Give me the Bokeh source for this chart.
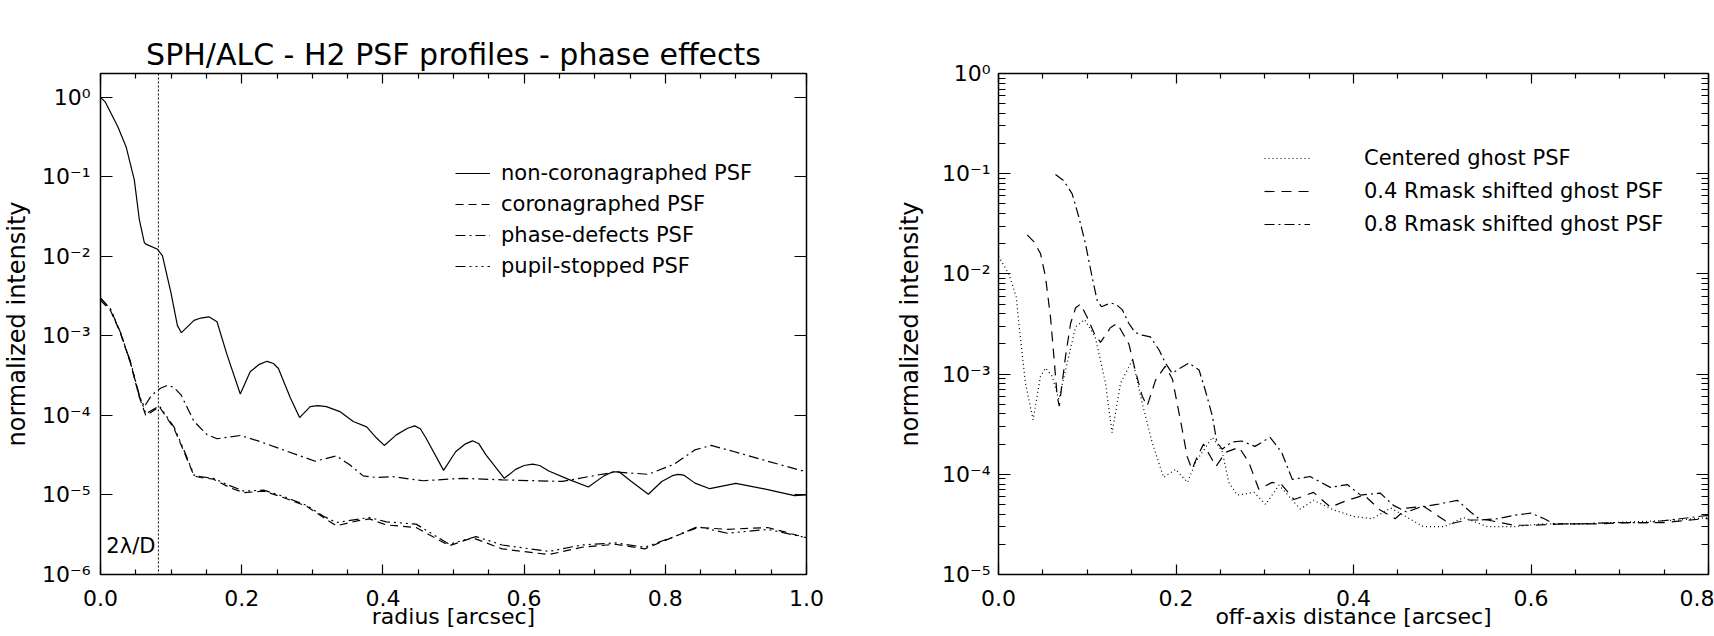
import json
from bokeh.plotting import figure
from bokeh.layouts import row
from bokeh.models import (LogAxis, LinearAxis, FixedTicker, CustomJSTickFormatter,
                          Span, Label, Legend, LegendItem, Range1d)
from bokeh.embed import file_html
from bokeh.resources import INLINE

FONT = "DejaVu Sans"

# ---------------- left panel: PSF profiles ----------------
left_title = "SPH/ALC - H2 PSF profiles - phase effects"
left_xlabel = "radius [arcsec]"
ylabel = "normalized intensity"
lambda_label = "2\u03bb/D"
lambda_pos = 0.082

r_noncoro = [0.0, 0.0066, 0.0244, 0.0362, 0.0479, 0.055, 0.062, 0.0643, 0.0808, 0.0878, 0.0996,
             0.109, 0.1146, 0.1325, 0.142, 0.1536, 0.165, 0.1794, 0.198, 0.212, 0.225, 0.236,
             0.245, 0.252, 0.269, 0.282, 0.297, 0.308, 0.320, 0.339, 0.358, 0.377, 0.391, 0.402,
             0.419, 0.435, 0.445, 0.453, 0.461, 0.486, 0.503, 0.517, 0.527, 0.536, 0.546, 0.572,
             0.588, 0.600, 0.612, 0.622, 0.635, 0.663, 0.691, 0.713, 0.725, 0.735, 0.752, 0.776,
             0.795, 0.810, 0.818, 0.826, 0.842, 0.863, 0.900, 0.945, 0.983, 1.0]
i_noncoro = [1.0, 0.88, 0.43, 0.24, 0.092, 0.029, 0.015, 0.0143, 0.0123, 0.0102, 3.55e-3,
             1.35e-3, 1.1e-3, 1.57e-3, 1.68e-3, 1.74e-3, 1.51e-3, 5.75e-4, 1.86e-4, 3.55e-4,
             4.4e-4, 4.8e-4, 4.5e-4, 3.9e-4, 1.66e-4, 9.4e-5, 1.29e-4, 1.33e-4, 1.29e-4, 1.12e-4,
             8.4e-5, 7.2e-5, 5.2e-5, 4.2e-5, 5.7e-5, 6.9e-5, 7.4e-5, 6.8e-5, 5.2e-5, 2.04e-5,
             3.5e-5, 4.4e-5, 4.8e-5, 4.4e-5, 3.2e-5, 1.62e-5, 2.1e-5, 2.35e-5, 2.45e-5, 2.35e-5,
             2.0e-5, 1.57e-5, 1.26e-5, 1.74e-5, 1.95e-5, 1.95e-5, 1.48e-5, 1.02e-5, 1.48e-5,
             1.75e-5, 1.82e-5, 1.78e-5, 1.41e-5, 1.2e-5, 1.4e-5, 1.17e-5, 9.8e-6, 1.0e-5]

r_coro = [0.0, 0.014, 0.028, 0.0423, 0.055, 0.0643, 0.0833, 0.104, 0.118, 0.1325, 0.1414, 0.160,
          0.184, 0.203, 0.231, 0.259, 0.292, 0.316, 0.334, 0.367, 0.381, 0.405, 0.447, 0.494,
          0.527, 0.569, 0.635, 0.682, 0.729, 0.771, 0.813, 0.846, 0.888, 0.945, 1.0]
i_coro = [2.8e-3, 2.1e-3, 1.1e-3, 4.6e-4, 1.7e-4, 9.9e-5, 1.29e-4, 6.9e-5, 3.55e-5, 1.74e-5,
          1.66e-5, 1.58e-5, 1.23e-5, 1.07e-5, 1.12e-5, 9.3e-6, 7.2e-6, 5.2e-6, 4.1e-6, 4.8e-6,
          5.0e-6, 4.2e-6, 3.9e-6, 2.3e-6, 2.9e-6, 2.1e-6, 1.78e-6, 2.2e-6, 2.4e-6, 2.1e-6,
          3.0e-6, 3.9e-6, 3.7e-6, 3.9e-6, 2.9e-6]

r_phase = [0.0, 0.014, 0.028, 0.0423, 0.055, 0.062, 0.072, 0.085, 0.0949, 0.104, 0.114, 0.1325,
           0.151, 0.165, 0.198, 0.226, 0.264, 0.304, 0.334, 0.353, 0.372, 0.391, 0.414, 0.457,
           0.513, 0.569, 0.654, 0.691, 0.729, 0.776, 0.813, 0.842, 0.865, 0.898, 0.945, 1.0]
i_phase = [2.95e-3, 2.19e-3, 1.12e-3, 4.7e-4, 1.74e-4, 1.29e-4, 1.78e-4, 2.2e-4, 2.4e-4,
           2.25e-4, 1.82e-4, 8.4e-5, 5.75e-5, 5.1e-5, 5.6e-5, 4.7e-5, 3.55e-5, 2.66e-5, 3.1e-5,
           2.4e-5, 1.74e-5, 1.66e-5, 1.7e-5, 1.51e-5, 1.62e-5, 1.55e-5, 1.48e-5, 1.7e-5,
           1.95e-5, 1.82e-5, 2.45e-5, 3.7e-5, 4.2e-5, 3.5e-5, 2.66e-5, 1.95e-5]

r_pupil = [0.0, 0.014, 0.028, 0.0423, 0.055, 0.0643, 0.0833, 0.104, 0.118, 0.1325, 0.1414, 0.160,
           0.184, 0.203, 0.231, 0.259, 0.292, 0.316, 0.334, 0.367, 0.381, 0.405, 0.447, 0.494,
           0.532, 0.569, 0.635, 0.682, 0.729, 0.771, 0.813, 0.846, 0.888, 0.945, 1.0]
i_pupil = [3.0e-3, 2.2e-3, 1.12e-3, 4.8e-4, 1.8e-4, 1.05e-4, 1.32e-4, 7.2e-5, 3.7e-5, 1.78e-5,
           1.7e-5, 1.62e-5, 1.3e-5, 1.12e-5, 1.15e-5, 9.6e-6, 7.4e-6, 5.4e-6, 4.5e-6, 5.0e-6,
           5.2e-6, 4.6e-6, 4.3e-6, 2.4e-6, 3.0e-6, 2.35e-6, 1.95e-6, 2.35e-6, 2.5e-6, 2.2e-6,
           3.0e-6, 4.0e-6, 3.3e-6, 3.7e-6, 2.9e-6]

left_names = ["non-coronagraphed PSF", "coronagraphed PSF", "phase-defects PSF", "pupil-stopped PSF"]

left_xticks = [0.0, 0.2, 0.4, 0.6, 0.8, 1.0]
left_xtick_labels = ["0.0", "0.2", "0.4", "0.6", "0.8", "1.0"]
left_yticks = [1e-6, 1e-5, 1e-4, 1e-3, 1e-2, 1e-1, 1.0]
left_ytick_labels = ["10\u207b\u2076", "10\u207b\u2075", "10\u207b\u2074", "10\u207b\u00b3",
                     "10\u207b\u00b2", "10\u207b\u00b9", "10\u2070"]

# ---------------- right panel: ghost PSFs ----------------
right_xlabel = "off-axis distance [arcsec]"

d_center = [0.0, 0.0116, 0.020, 0.0229, 0.0304, 0.039, 0.0473, 0.053, 0.0605, 0.068, 0.0774,
            0.0868, 0.097, 0.109, 0.1206, 0.128, 0.1375, 0.151, 0.162, 0.173, 0.186, 0.1995,
            0.213, 0.222, 0.241, 0.252, 0.2595, 0.269, 0.288, 0.301, 0.316, 0.340, 0.355, 0.378,
            0.400, 0.421, 0.442, 0.479, 0.502, 0.524, 0.551, 0.581, 0.611, 0.656, 0.693, 0.731,
            0.768, 0.8]
i_center = [1.5e-2, 1.0e-2, 5.9e-3, 3.2e-3, 8.1e-4, 3.5e-4, 9.5e-4, 1.15e-3, 9.5e-4, 5.6e-4,
            1.29e-3, 2.95e-3, 3.5e-3, 2.35e-3, 8.1e-4, 2.6e-4, 8.1e-4, 1.39e-3, 5.1e-4, 2.1e-4,
            9.3e-5, 1.12e-4, 8.3e-5, 1.32e-4, 2.34e-4, 1.7e-4, 8.3e-5, 6.2e-5, 6.6e-5, 5.0e-5,
            7.8e-5, 4.5e-5, 5.5e-5, 4.4e-5, 3.8e-5, 3.6e-5, 4.6e-5, 3.0e-5, 3.0e-5, 3.7e-5,
            3.0e-5, 3.0e-5, 3.2e-5, 3.2e-5, 3.3e-5, 3.4e-5, 3.5e-5, 3.7e-5]

d_shift04 = [0.0323, 0.0398, 0.0473, 0.053, 0.0586, 0.0624, 0.0661, 0.0685, 0.0755, 0.0812,
             0.087, 0.0924, 0.0999, 0.1074, 0.1149, 0.1206, 0.126, 0.1337, 0.1469, 0.154, 0.162,
             0.1675, 0.177, 0.188, 0.196, 0.2013, 0.207, 0.2126, 0.218, 0.224, 0.231, 0.245,
             0.256, 0.271, 0.282, 0.2933, 0.3083, 0.319, 0.333, 0.355, 0.374, 0.393, 0.412, 0.43,
             0.447, 0.46, 0.479, 0.494, 0.509, 0.528, 0.551, 0.581, 0.603, 0.637, 0.675, 0.712,
             0.75, 0.795, 0.8]
i_shift04 = [2.45e-2, 2.1e-2, 1.6e-2, 9.3e-3, 3.7e-3, 1.5e-3, 6.0e-4, 4.8e-4, 1.5e-3, 3.2e-3,
             4.6e-3, 5.0e-3, 3.7e-3, 2.6e-3, 2.07e-3, 2.45e-3, 2.9e-3, 3.2e-3, 2.0e-3, 1.1e-3,
             6.0e-4, 4.8e-4, 8.7e-4, 1.2e-3, 8.9e-4, 5.1e-4, 2.8e-4, 1.5e-4, 1.12e-4, 1.5e-4,
             2.0e-4, 1.2e-4, 1.66e-4, 1.86e-4, 1.32e-4, 7.1e-5, 8.3e-5, 7.9e-5, 5.6e-5, 6.6e-5,
             4.7e-5, 5.5e-5, 6.2e-5, 4.4e-5, 3.6e-5, 4.6e-5, 4.8e-5, 3.9e-5, 3.2e-5, 3.5e-5,
             3.5e-5, 3.1e-5, 3.1e-5, 3.2e-5, 3.2e-5, 3.3e-5, 3.3e-5, 3.6e-5, 3.6e-5]

d_shift08 = [0.0642, 0.0736, 0.083, 0.0905, 0.098, 0.1055, 0.111, 0.116, 0.126, 0.132, 0.1394,
             0.1469, 0.154, 0.162, 0.171, 0.181, 0.188, 0.1957, 0.205, 0.2145, 0.226, 0.233,
             0.241, 0.246, 0.252, 0.263, 0.274, 0.289, 0.306, 0.319, 0.331, 0.351, 0.374, 0.393,
             0.408, 0.43, 0.445, 0.46, 0.475, 0.494, 0.517, 0.532, 0.543, 0.562, 0.581, 0.6,
             0.615, 0.626, 0.656, 0.693, 0.731, 0.768, 0.8]
i_shift08 = [9.8e-2, 8.5e-2, 6.3e-2, 3.7e-2, 2.0e-2, 9.3e-3, 5.5e-3, 4.7e-3, 5.1e-3, 5.0e-3,
             4.4e-3, 3.2e-3, 2.6e-3, 2.45e-3, 2.35e-3, 1.74e-3, 1.29e-3, 1.02e-3, 1.15e-3,
             1.29e-3, 1.1e-3, 6.9e-4, 3.8e-4, 2.1e-4, 1.78e-4, 2.1e-4, 2.15e-4, 1.9e-4, 2.34e-4,
             1.66e-4, 8.9e-5, 9.5e-5, 7.4e-5, 7.9e-5, 6.2e-5, 6.5e-5, 4.9e-5, 4.2e-5, 4.7e-5,
             5.0e-5, 5.5e-5, 4.2e-5, 3.5e-5, 3.6e-5, 3.9e-5, 4.1e-5, 3.6e-5, 3.2e-5, 3.2e-5,
             3.3e-5, 3.3e-5, 3.6e-5, 3.9e-5]

right_names = ["Centered ghost PSF", "0.4 Rmask shifted ghost PSF", "0.8 Rmask shifted ghost PSF"]

right_xticks = [0.0, 0.2, 0.4, 0.6, 0.8]
right_xtick_labels = ["0.0", "0.2", "0.4", "0.6", "0.8"]
right_yticks = [1e-5, 1e-4, 1e-3, 1e-2, 1e-1, 1.0]
right_ytick_labels = ["10\u207b\u2075", "10\u207b\u2074", "10\u207b\u00b3", "10\u207b\u00b2",
                      "10\u207b\u00b9", "10\u2070"]


def label_formatter(ticks, labels):
    return CustomJSTickFormatter(code=(
        "const T = " + json.dumps(ticks) + "; const L = " + json.dumps(labels) + ";\n"
        "for (let i = 0; i < T.length; i++) {\n"
        "  const tol = 1e-6 * Math.max(Math.abs(T[i]), 1e-12);\n"
        "  if (Math.abs(T[i] - tick) <= tol) return L[i];\n"
        "}\n"
        "return '';"))


def style_axis(ax, ticks, minor, labels, tin, min_in, show=True, standoff=10):
    ax.ticker = FixedTicker(ticks=ticks, minor_ticks=minor)
    if show:
        ax.formatter = label_formatter(ticks, labels)
        ax.major_label_text_font_size = "22px"
    else:
        ax.formatter = CustomJSTickFormatter(code="return '';")
        ax.major_label_text_font_size = "0px"
    ax.major_label_text_font = FONT
    ax.major_label_text_color = "black"
    ax.major_label_standoff = standoff if show else 0
    ax.major_tick_in = tin
    ax.major_tick_out = 0
    ax.minor_tick_in = min_in
    ax.minor_tick_out = 0
    ax.major_tick_line_color = "black"
    ax.minor_tick_line_color = "black" if min_in > 0 else None
    ax.major_tick_line_width = 1.2
    ax.minor_tick_line_width = 1.2
    ax.axis_line_color = None
    ax.axis_label = None
    ax.axis_label_text_font = FONT
    ax.axis_label_text_font_size = "22px"
    ax.axis_label_text_font_style = "normal"
    ax.axis_label_text_color = "black"


def minor_list(majors, step):
    out = []
    for a, b in zip(majors[:-1], majors[1:]):
        n = int(round((b - a) / step))
        out += [a + k * step for k in range(1, n)]
    return out


def log_minors(majors):
    out = []
    for m in majors[:-1]:
        out += [k * m for k in range(2, 10)]
    return out


LINE = dict(line_color="black", line_width=1.2)

# ---------------- left figure ----------------
p1 = figure(width=846, height=636, x_range=Range1d(0.0, 1.0), y_range=Range1d(1e-6, 2.0),
            y_axis_type="log", output_backend="svg", toolbar_location=None,
            min_border_left=96, min_border_right=40, min_border_top=73, min_border_bottom=62,
            title=left_title)
p1.title.text_font = FONT
p1.title.text_font_size = "30px"
p1.title.text_font_style = "normal"
p1.title.text_color = "black"
p1.title.align = "center"
p1.title.standoff = 3
p1.xgrid.visible = False
p1.ygrid.visible = False
p1.outline_line_color = "black"
p1.outline_line_width = 1.5
p1.background_fill_color = "white"
p1.border_fill_color = "white"

x_minor_l = minor_list(left_xticks, 0.05)
style_axis(p1.xaxis[0], left_xticks, x_minor_l, left_xtick_labels, 10, 5, True, 15)
p1.xaxis[0].axis_label = left_xlabel
p1.xaxis[0].axis_label_standoff = -5
style_axis(p1.yaxis[0], left_yticks, [], left_ytick_labels, 12, 0, True, 10)
p1.yaxis[0].axis_label = ylabel
p1.yaxis[0].axis_label_standoff = 8
p1.yaxis[0].axis_label_text_font_size = "24px"
top1 = LinearAxis()
style_axis(top1, left_xticks, x_minor_l, left_xtick_labels, 10, 5, False)
p1.add_layout(top1, "above")
right1 = LogAxis()
style_axis(right1, left_yticks, [], left_ytick_labels, 12, 0, False)
p1.add_layout(right1, "right")

l_solid = p1.line(r_noncoro, i_noncoro, **LINE)
l_dash = p1.line(r_coro, i_coro, line_dash="8 5", **LINE)
l_dashdot = p1.line(r_phase, i_phase, line_dash="10 4 2 4", **LINE)
l_dash3dot = p1.line(r_pupil, i_pupil, line_dash="10 4 2 4 2 4 2 4", **LINE)

p1.add_layout(Span(location=lambda_pos, dimension="height", line_color="black",
                   line_width=1, line_dash="2 2"))
p1.add_layout(Label(x=lambda_pos, y=2.3e-6, x_offset=-3, text=lambda_label,
                    text_align="right", text_baseline="middle", text_font=FONT,
                    text_font_size="21px", text_color="black"))

leg1 = Legend(items=[LegendItem(label=n, renderers=[r]) for n, r in
                     zip(left_names, [l_solid, l_dash, l_dashdot, l_dash3dot])],
              location=(355, 296), orientation="vertical",
              border_line_color=None, background_fill_alpha=0.0,
              label_text_font=FONT, label_text_font_size="21px", label_text_color="black",
              glyph_width=35, glyph_height=20, label_standoff=11, spacing=7,
              padding=0, margin=0, label_height=20)
p1.add_layout(leg1, "center")

# ---------------- right figure ----------------
p2 = figure(width=868, height=636, x_range=Range1d(0.0, 0.8), y_range=Range1d(1e-5, 1.0),
            y_axis_type="log", output_backend="svg", toolbar_location=None,
            min_border_left=152, min_border_right=6, min_border_top=72, min_border_bottom=62)
p2.xgrid.visible = False
p2.ygrid.visible = False
p2.outline_line_color = "black"
p2.outline_line_width = 1.5
p2.background_fill_color = "white"
p2.border_fill_color = "white"

x_minor_r = minor_list(right_xticks, 0.05)
y_minor_r = log_minors(right_yticks)
style_axis(p2.xaxis[0], right_xticks, x_minor_r, right_xtick_labels, 10, 5, True, 15)
p2.xaxis[0].axis_label = right_xlabel
p2.xaxis[0].axis_label_standoff = -5
style_axis(p2.yaxis[0], right_yticks, y_minor_r, right_ytick_labels, 12, 7, True, 8)
p2.yaxis[0].axis_label = ylabel
p2.yaxis[0].axis_label_standoff = 15
p2.yaxis[0].axis_label_text_font_size = "24px"
top2 = LinearAxis()
style_axis(top2, right_xticks, x_minor_r, right_xtick_labels, 10, 5, False)
p2.add_layout(top2, "above")
right2 = LogAxis()
style_axis(right2, right_yticks, y_minor_r, right_ytick_labels, 12, 7, False)
p2.add_layout(right2, "right")

g_center = p2.line(d_center, i_center, line_dash="1 3", **LINE)
g_04 = p2.line(d_shift04, i_shift04, line_dash="10 7", **LINE)
g_08 = p2.line(d_shift08, i_shift08, line_dash="10 4 2 4", **LINE)

leg2 = Legend(items=[LegendItem(label=n, renderers=[r]) for n, r in
                     zip(right_names, [g_center, g_04, g_08])],
              location=(266, 338), orientation="vertical",
              border_line_color=None, background_fill_alpha=0.0,
              label_text_font=FONT, label_text_font_size="21px", label_text_color="black",
              glyph_width=46, glyph_height=20, label_standoff=54, spacing=9,
              padding=0, margin=0, label_height=20)
p2.add_layout(leg2, "center")

layout = row(p1, p2)
with open("out.html", "w", encoding="utf-8") as f:
    f.write(file_html(layout, INLINE))
